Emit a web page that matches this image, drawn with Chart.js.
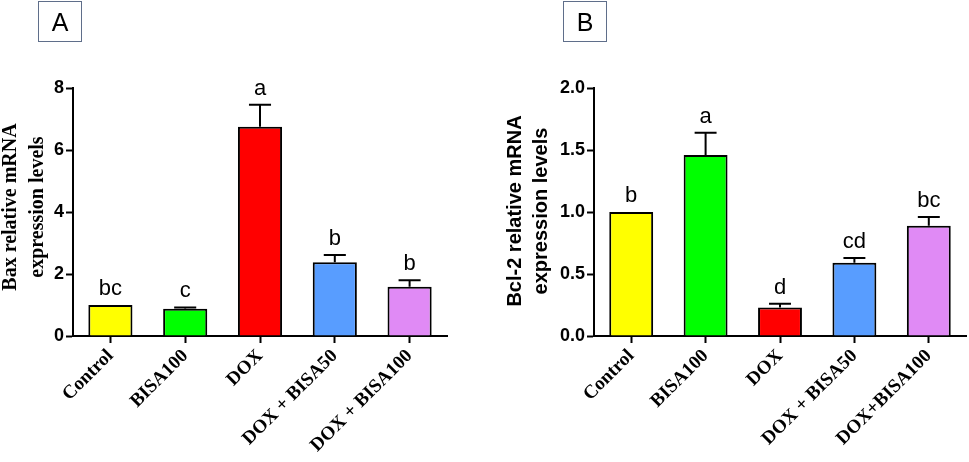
<!DOCTYPE html>
<html><head><meta charset="utf-8">
<script src="https://cdn.jsdelivr.net/npm/chart.js@4"></script>
<style>
body{margin:0;background:#fff;width:969px;height:462px;overflow:hidden;position:relative;font-family:"Liberation Sans",Arial,sans-serif}
.box{position:absolute;top:1px;width:42px;height:39px;border:1.5px solid #5f6e8a;font-size:25px;text-align:center;line-height:40px;color:#000}
canvas{position:absolute;top:0;left:0}
</style></head><body>
<div id="wa" style="position:absolute;left:0;top:0;width:480px;height:462px"><canvas id="ca" width="480" height="462"></canvas></div>
<div id="wb" style="position:absolute;left:480px;top:0;width:489px;height:462px"><canvas id="cb" width="489" height="462"></canvas></div>
<div class="box" style="left:38px">A</div>
<div class="box" style="left:563px">B</div>
<script>
const categoriesA = ['Control','BISA100','DOX','DOX + BISA50','DOX + BISA100'];
const baxMeans = [1.00, 0.88, 6.75, 2.38, 1.59];
const baxSem = [0.00, 0.04, 0.71, 0.23, 0.21];
const baxLetters = ['bc','c','a','b','b'];
const baxTicks = [0, 2, 4, 6, 8];

const categoriesB = ['Control','BISA100','DOX','DOX + BISA50','DOX+BISA100'];
const bcl2Means = [1.00, 1.46, 0.23, 0.59, 0.89];
const bcl2Sem = [0.00, 0.18, 0.03, 0.04, 0.07];
const bcl2Letters = ['b','a','d','cd','bc'];
const bcl2Ticks = [0, 0.5, 1.0, 1.5, 2.0];

const barColors = ['#ffff00','#00ff00','#ff0000','#589dff','#e08af5'];

const errLettersPlugin = {
  id: 'errLetters',
  afterDatasetsDraw(chart, args, opts) {
    const ctx = chart.ctx, y = chart.scales.y;
    const meta = chart.getDatasetMeta(0);
    ctx.save();
    ctx.strokeStyle = '#000'; ctx.lineWidth = 2; ctx.fillStyle = '#000';
    ctx.font = '22px "Liberation Sans", Arial, sans-serif';
    ctx.textAlign = 'center'; ctx.textBaseline = 'alphabetic';
    meta.data.forEach((bar, i) => {
      const top = y.getPixelForValue(opts.means[i] + opts.sem[i]);
      if (opts.sem[i] > 0) {
        const half = bar.width / 4;
        ctx.beginPath();
        ctx.moveTo(bar.x, bar.y); ctx.lineTo(bar.x, top);
        ctx.moveTo(bar.x - half, top); ctx.lineTo(bar.x + half, top);
        ctx.stroke();
      }
      ctx.fillText(opts.letters[i], bar.x, top - 10);
    });
    ctx.restore();
  },
  afterDraw(chart, args, opts) {
    const ctx = chart.ctx;
    ctx.save();
    ctx.fillStyle = '#000';
    ctx.font = opts.titleFont;
    ctx.textAlign = 'center'; ctx.textBaseline = 'middle';
    opts.titleLines.forEach((t, k) => {
      ctx.save();
      ctx.translate(opts.titleX[k], opts.titleY);
      ctx.rotate(-Math.PI / 2);
      ctx.fillText(t, 0, 0);
      ctx.restore();
    });
    ctx.restore();
  }
};

function makeChart(id, width, cats, means, sem, letters, ticks, decimals, left, right, titleLines, titleFont, titleX, titleY) {
  const axisGrid = {display: true, drawOnChartArea: false, drawTicks: true, tickLength: 7, tickWidth: 2, tickColor: '#000', offset: false};
  return new Chart(document.getElementById(id), {
    type: 'bar',
    data: {labels: cats, datasets: [{data: means, backgroundColor: barColors, borderColor: '#000', borderWidth: 2, barPercentage: 0.59, categoryPercentage: 1.0}]},
    plugins: [errLettersPlugin],
    options: {
      responsive: false, animation: false,
      layout: {padding: {top: 88, right: width - right, left: 0, bottom: 0}},
      plugins: {
        legend: {display: false}, tooltip: {enabled: false},
        errLetters: {means, sem, letters, titleLines, titleFont, titleX, titleY}
      },
      scales: {
        x: {
          grid: axisGrid,
          border: {display: true, color: '#000', width: 2},
          ticks: {color: '#000', font: {family: '"Liberation Serif", "Times New Roman", serif', weight: 'bold', size: 19}, minRotation: 45, maxRotation: 45, autoSkip: false, padding: 2},
          afterFit: s => { s.height = 462 - 336; }
        },
        y: {
          min: ticks[0], max: ticks[ticks.length - 1],
          afterBuildTicks: s => { s.ticks = ticks.map(v => ({value: v})); },
          grid: axisGrid,
          border: {display: true, color: '#000', width: 2},
          ticks: {color: '#000', font: {family: '"Liberation Sans", Arial, sans-serif', weight: 'bold', size: 18}, padding: 2,
            callback: v => decimals ? Number(v).toFixed(decimals) : String(v)},
          afterFit: s => { s.width = left; }
        }
      }
    }
  });
}

makeChart('ca', 480, categoriesA, baxMeans, baxSem, baxLetters, baxTicks, 0, 73, 447,
  ['Bax relative mRNA', 'expression levels'], 'bold 20px "Liberation Serif", "Times New Roman", serif', [11, 38], 207);
makeChart('cb', 489, categoriesB, bcl2Means, bcl2Sem, bcl2Letters, bcl2Ticks, 1, 114, 486,
  ['Bcl-2 relative mRNA', 'expression levels'], 'bold 20px "Liberation Sans", Arial, sans-serif', [35, 61], 211);
</script>
</body></html>
